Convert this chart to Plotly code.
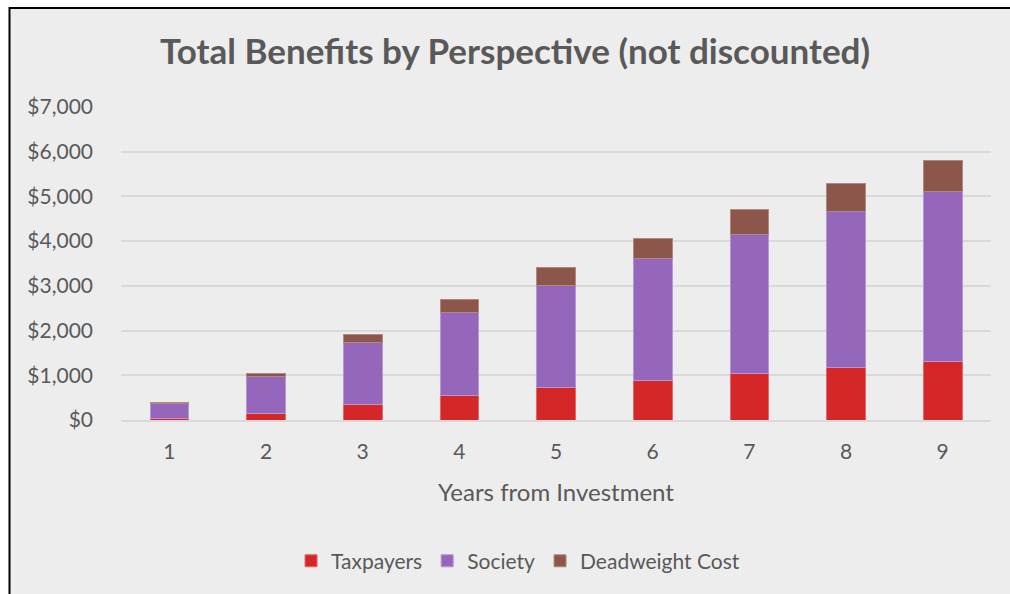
import plotly.graph_objects as go

years = ["1", "2", "3", "4", "5", "6", "7", "8", "9"]
taxpayers = [40, 140, 350, 555, 720, 890, 1045, 1180, 1310]
society = [335, 825, 1380, 1845, 2290, 2720, 3105, 3480, 3800]
deadweight = [25, 75, 180, 290, 400, 460, 560, 630, 700]
y_ticks = [0, 1000, 2000, 3000, 4000, 5000, 6000, 7000]
y_tick_labels = ["$0", "$1,000", "$2,000", "$3,000", "$4,000", "$5,000", "$6,000", "$7,000"]

W, H = 1010, 594
L, R, T, B = 120.6, 991.4, 107.3, 420.0
pw, ph = R - L, B - T

def px(x):
    return (x - L) / pw

def py(y):
    return (B - y) / ph

FONT = "Lato"
TXT = "#595959"

fig = go.Figure()
for name, vals, col, edge in [
    ("Taxpayers", taxpayers, "#D62728", "#E06A6B"),
    ("Society", society, "#9467BD", "#B596D3"),
    ("Deadweight Cost", deadweight, "#8C564B", "#B08A82"),
]:
    fig.add_trace(go.Bar(x=years, y=vals, name=name, marker=dict(color=col, line=dict(color=edge, width=1))))

fig.update_layout(
    width=W, height=H,
    barmode="stack", bargap=0.6,
    margin=dict(l=L, r=W - R, t=T, b=H - B),
    paper_bgcolor="white", plot_bgcolor="rgba(0,0,0,0)",
    font=dict(family=FONT, color=TXT, size=21),
    title=dict(text="<b>Total Benefits by Perspective (not discounted)</b>", x=515 / W, xanchor="center",
               y=1 - 52 / H, yanchor="middle", yref="container", font=dict(size=35, color=TXT, family=FONT)),
    showlegend=True,
    legend=dict(orientation="h", x=px(518), xanchor="center", y=py(561), yanchor="middle",
                font=dict(size=21, color=TXT), bgcolor="rgba(0,0,0,0)", traceorder="normal",
                itemwidth=30),
    xaxis=dict(showgrid=False, showline=True, linecolor="#D9D9D9", linewidth=1.5, ticks="",
               ticklabelstandoff=12, tickfont=dict(size=21, color=TXT), fixedrange=True),
    yaxis=dict(range=[0, 7000], tickvals=y_ticks, ticktext=y_tick_labels, showgrid=True,
               gridcolor="#D9D9D9", gridwidth=1.5, zeroline=False, ticks="", ticklabelstandoff=27,
               tickfont=dict(size=21, color=TXT), showline=False),
    shapes=[dict(type="rect", xref="paper", yref="paper", x0=px(9), x1=px(1030), y0=py(8.5), y1=py(620),
                 fillcolor="#EDEDED", line=dict(color="black", width=2), layer="below")],
    annotations=[dict(text="Years from Investment", xref="paper", yref="paper", x=px(556), y=py(491),
                      xanchor="center", yanchor="middle", showarrow=False, font=dict(size=24, color=TXT))],
)

fig.write_html("out.html")
